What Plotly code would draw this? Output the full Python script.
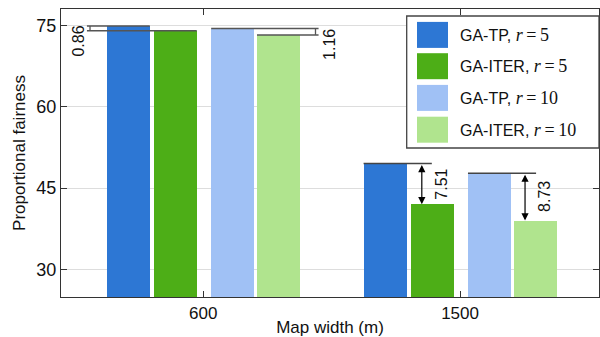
import plotly.graph_objects as go

# ---------------- data ----------------
categories = ["600", "1500"]
series_names = ["GA-TP", "GA-ITER", "GA-TP", "GA-ITER"]
series_r = ["5", "5", "10", "10"]
tp_r5 = [74.90, 49.55]
iter_r5 = [74.04, 42.04]
tp_r10 = [74.42, 47.77]
iter_r10 = [73.26, 39.04]
diff_labels = ["0.86", "1.16", "7.51", "8.73"]
y_ticks = [30, 45, 60, 75]

series_values = [tp_r5, iter_r5, tp_r10, iter_r10]
colors = ["#2D77D4", "#4DAE17", "#A0C1F5", "#B0E48E"]
offsets = [-0.292, -0.109, 0.1145, 0.293]
bar_w = 0.1675

W, H = 600, 337
ML, MR, MT, MB = 61, 1, 9, 40
PW, PH = W - ML - MR, H - MT - MB


def px2x(px):
    return (px - ML) / PW


def py2y(py):
    return (H - MB - py) / PH


FONT = "Liberation Sans, Arial, sans-serif"
fig = go.Figure()

for vals, col, off, name, r in zip(series_values, colors, offsets, series_names, series_r):
    fig.add_trace(go.Bar(
        x=[i + off for i in range(len(categories))],
        y=vals, width=bar_w, marker=dict(color=col, line=dict(width=0)),
        name=f"{name}, r={r}", showlegend=False,
    ))

shapes = []
annotations = []
LC = "#555555"

def hline(x0, x1, y, color=LC, w=1.5):
    shapes.append(dict(type="line", xref="x", yref="y", x0=x0, x1=x1, y0=y, y1=y,
                       line=dict(color=color, width=w)))

def vline(x, y0, y1, color=LC, w=1.3):
    shapes.append(dict(type="line", xref="x", yref="y", x0=x, x1=x, y0=y0, y1=y1,
                       line=dict(color=color, width=w)))

def label(x, y, txt):
    annotations.append(dict(x=x, y=y, xref="x", yref="y", text=txt, showarrow=False,
                            textangle=-90, font=dict(family=FONT, size=16, color="#111")))

# group 600 : bracket on left between r=5 bars
c = 0
a, b = tp_r5[c], iter_r5[c]
xb = -0.441
hline(xb - 0.012, c + offsets[0] + bar_w / 2, a)
hline(xb - 0.012, c + offsets[1] + bar_w / 2, b)
vline(xb, a, b)
label(-0.487, (a + b) / 2 - 2.4, diff_labels[0])

# group 600 : bracket on right between r=10 bars
a, b = tp_r10[c], iter_r10[c]
xb = 0.437
hline(c + offsets[2] - bar_w / 2, xb + 0.012, a)
hline(c + offsets[3] - bar_w / 2, xb + 0.012, b)
vline(xb, a, b)
label(0.494, (a + b) / 2 - 2.4, diff_labels[1])

# group 1500 : arrows
c = 1
a, b = tp_r5[c], iter_r5[c]
hline(c + offsets[0] - bar_w / 2, 0.890, a, color="#444444")
annotations.append(dict(x=0.851, y=b, ax=0.851, ay=a, xref="x", yref="y", axref="x", ayref="y",
                        text="", showarrow=True, arrowhead=2, arrowside="end+start",
                        arrowsize=1.2, arrowwidth=1.2, arrowcolor="#000", standoff=0, startstandoff=0))
label(0.929, (a + b) / 2, diff_labels[2])

a, b = tp_r10[c], iter_r10[c]
hline(c + offsets[2] - bar_w / 2, 1.296, a, color="#444444")
annotations.append(dict(x=1.253, y=b, ax=1.253, ay=a, xref="x", yref="y", axref="x", ayref="y",
                        text="", showarrow=True, arrowhead=2, arrowside="end+start",
                        arrowsize=1.2, arrowwidth=1.2, arrowcolor="#000", standoff=0, startstandoff=0))
label(1.331, (a + b) / 2, diff_labels[3])

# ---------------- custom legend ----------------
shapes.append(dict(type="rect", xref="paper", yref="paper",
                   x0=px2x(406.7), x1=px2x(599), y0=py2y(148), y1=py2y(16),
                   fillcolor="white", line=dict(color="#444", width=1.3), layer="above"))
row_c = [34.9, 66.2, 97.9, 129.7]
for yc, col, name, r in zip(row_c, colors, series_names, series_r):
    shapes.append(dict(type="rect", xref="paper", yref="paper",
                       x0=px2x(417), x1=px2x(448), y0=py2y(yc + 13), y1=py2y(yc - 13),
                       fillcolor=col, line=dict(width=0), layer="above"))
    annotations.append(dict(xref="paper", yref="paper", x=px2x(458), y=py2y(yc),
                            xanchor="left", yanchor="middle", showarrow=False,
                            text=f"{name}, <span style='font-family:\"Liberation Serif\",serif;font-size:18px'><i>r</i>\u2009=\u2009{r}</span>",
                            font=dict(family=FONT, size=16, color="#111")))

fig.update_layout(
    width=W, height=H, margin=dict(l=ML, r=MR, t=MT, b=MB),
    plot_bgcolor="white", paper_bgcolor="white",
    font=dict(family=FONT, size=17, color="#111"),
    shapes=shapes, annotations=annotations, bargap=0,
)
fig.update_xaxes(
    range=[-0.554, 1.541], tickvals=list(range(len(categories))), ticktext=categories,
    ticks="inside", ticklen=6, tickwidth=1.2, tickcolor="#333",
    showline=True, linecolor="#333", linewidth=1.3, mirror="ticks", showgrid=False, zeroline=False,
    title=dict(text="Map width (m)", font=dict(size=17), standoff=3),
    tickfont=dict(size=17),
)
fig.update_yaxes(
    range=[24.94, 78.03], tickvals=y_ticks,
    ticks="inside", ticklen=6, tickwidth=1.2, tickcolor="#333",
    showline=True, linecolor="#333", linewidth=1.3, mirror="ticks",
    showgrid=True, gridcolor="#DDDDDD", gridwidth=1, zeroline=False,
    title=dict(text="Proportional fairness", font=dict(size=17), standoff=6),
    tickfont=dict(size=18),
)

fig.write_html("out.html")
